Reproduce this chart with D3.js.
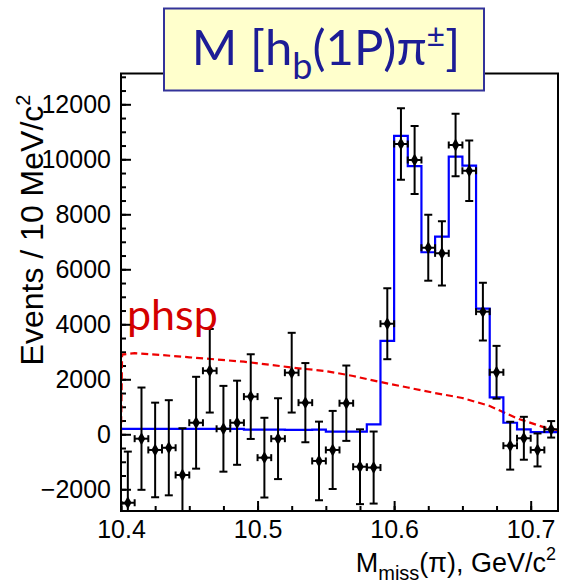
<!DOCTYPE html>
<html>
<head>
<meta charset="utf-8">
<script src="https://cdn.jsdelivr.net/npm/d3@7"></script>
<style>
  body { margin: 0; background: #fff; }
  svg { display: block; }
  .tick text { font-family: "Liberation Sans", Arial, sans-serif; font-size: 25px; fill: #000; }
</style>
</head>
<body>
<div id="chart"></div>
<script>
// Data, bins of 10 MeV
var binCenters = [10.405, 10.415, 10.425, 10.435, 10.445, 10.455, 10.465, 10.475,
                  10.485, 10.495, 10.505, 10.515, 10.525, 10.535, 10.545, 10.555,
                  10.565, 10.575, 10.585, 10.595, 10.605, 10.615, 10.625, 10.635,
                  10.645, 10.655, 10.665, 10.675, 10.685, 10.695, 10.705, 10.715];
var events = [-2490, -160, -570, -490, -1480, 420, 2310, 200,
              420, 1370, -850, -160, 2240, 1150, -970, -570,
              1130, -1180, -1210, 4020, 10560, 9975, 6785, 6580,
              10520, 9585, 4460, 2255, -415, -145, -570, 180];
var errors = [1860, 1860, 1720, 1730, 1700, 1670, 1520, 1560,
              1530, 1540, 1450, 1470, 1450, 1440, 1430, 1420,
              1370, 1360, 1310, 1290, 1300, 1240, 1200, 1170,
              1140, 1100, 1050, 960, 870, 780, 600, 300];
var fitValues = [200, 200, 200, 200, 200, 200, 200, 200,
                 200, 170, 170, 170, 160, 160, 170, 95,
                 95, 95, 360, 3400, 10850, 9755, 6620, 7190,
                 10100, 9770, 4570, 1345, 420, 180, 75, 75];
var phspX = [10.400, 10.4008, 10.41, 10.43, 10.45, 10.47, 10.49, 10.51, 10.53,
             10.55, 10.57, 10.59, 10.61, 10.63, 10.65, 10.67, 10.69, 10.71, 10.72];
var phspY = [0, 2900, 2950, 2880, 2800, 2720, 2640, 2520, 2400,
             2300, 2120, 1900, 1700, 1500, 1320, 1030, 580, 250, 150];
var xMajor = [10.4, 10.5, 10.6, 10.7];
var yMajor = [-2000, 0, 2000, 4000, 6000, 8000, 10000, 12000];
var binHalf = 0.005;

var width = 561, height = 585;
var plotLeft = 121, plotRight = 558, plotTop = 73.5, plotBottom = 511;

var svg = d3.select("#chart").append("svg")
    .attr("width", width)
    .attr("height", height);

svg.append("rect").attr("width", width).attr("height", height).attr("fill", "#fff");

var x = d3.scaleLinear().domain([10.4, 10.72]).range([plotLeft, plotRight]);
var y = d3.scaleLinear().domain([-2790, 13120]).range([plotBottom, plotTop]);

svg.append("clipPath").attr("id", "plot")
  .append("rect")
    .attr("x", plotLeft).attr("y", plotTop)
    .attr("width", plotRight - plotLeft).attr("height", plotBottom - plotTop);

// axes, ticks pointing inward
var xMinor = d3.range(10.4, 10.7201, 0.025);
var yMinor = d3.range(-2500, 13001, 500);

svg.append("g")
    .attr("transform", "translate(0," + plotBottom + ")")
    .call(d3.axisBottom(x).tickValues(xMinor).tickSize(-5).tickFormat(""))
    .call(function(g) { g.select(".domain").remove(); });
svg.append("g")
    .attr("transform", "translate(0," + plotBottom + ")")
    .call(d3.axisBottom(x).tickValues(xMajor).tickSize(-10).tickPadding(9).tickFormat(d3.format(".1f")))
    .call(function(g) { g.select(".domain").remove(); });

svg.append("g")
    .attr("transform", "translate(" + plotLeft + ",0)")
    .call(d3.axisLeft(y).tickValues(yMinor).tickSize(-5).tickFormat(""))
    .call(function(g) { g.select(".domain").remove(); });
svg.append("g")
    .attr("transform", "translate(" + plotLeft + ",0)")
    .call(d3.axisLeft(y).tickValues(yMajor).tickSize(-10).tickPadding(10).tickFormat(d3.format("d")))
    .call(function(g) { g.select(".domain").remove(); });

svg.selectAll(".tick line").attr("stroke", "#000").attr("stroke-width", 2);

var plot = svg.append("g").attr("clip-path", "url(#plot)");

// phase space, red dashed
plot.append("path")
    .datum(phspX.map(function(v, i) { return [v, phspY[i]]; }))
    .attr("fill", "none")
    .attr("stroke", "#ee0000")
    .attr("stroke-width", 2.2)
    .attr("stroke-dasharray", "7,4")
    .attr("d", d3.line().x(function(d) { return x(d[0]); }).y(function(d) { return y(d[1]); }));

// fit histogram, blue steps
var steps = binCenters.map(function(c, i) { return [c - binHalf, fitValues[i]]; });
steps.push([binCenters[binCenters.length - 1] + binHalf, fitValues[fitValues.length - 1]]);
plot.append("path")
    .datum(steps)
    .attr("fill", "none")
    .attr("stroke", "#0000ff")
    .attr("stroke-width", 2.2)
    .attr("d", d3.line().curve(d3.curveStepAfter)
      .x(function(d) { return x(d[0]); }).y(function(d) { return y(d[1]); }));

// data points with error bars
var pts = plot.selectAll("g.pt")
    .data(binCenters.map(function(c, i) { return { c: c, v: events[i], e: errors[i] }; }))
  .enter().append("g")
    .attr("class", "pt")
    .attr("stroke", "#000")
    .attr("stroke-width", 2);

pts.append("line")
    .attr("x1", function(d) { return x(d.c); }).attr("x2", function(d) { return x(d.c); })
    .attr("y1", function(d) { return y(d.v - d.e); }).attr("y2", function(d) { return y(d.v + d.e); });
pts.append("line")
    .attr("x1", function(d) { return x(d.c) - 4; }).attr("x2", function(d) { return x(d.c) + 4; })
    .attr("y1", function(d) { return y(d.v + d.e); }).attr("y2", function(d) { return y(d.v + d.e); });
pts.append("line")
    .attr("x1", function(d) { return x(d.c) - 4; }).attr("x2", function(d) { return x(d.c) + 4; })
    .attr("y1", function(d) { return y(d.v - d.e); }).attr("y2", function(d) { return y(d.v - d.e); });
pts.append("line")
    .attr("x1", function(d) { return x(d.c - binHalf); }).attr("x2", function(d) { return x(d.c + binHalf); })
    .attr("y1", function(d) { return y(d.v); }).attr("y2", function(d) { return y(d.v); });
pts.append("line")
    .attr("x1", function(d) { return x(d.c - binHalf); }).attr("x2", function(d) { return x(d.c - binHalf); })
    .attr("y1", function(d) { return y(d.v) - 3.5; }).attr("y2", function(d) { return y(d.v) + 3.5; });
pts.append("line")
    .attr("x1", function(d) { return x(d.c + binHalf); }).attr("x2", function(d) { return x(d.c + binHalf); })
    .attr("y1", function(d) { return y(d.v) - 3.5; }).attr("y2", function(d) { return y(d.v) + 3.5; });
pts.append("path")
    .attr("stroke", "none")
    .attr("fill", "#000")
    .attr("transform", function(d) { return "translate(" + x(d.c) + "," + y(d.v) + ")"; })
    .attr("d", d3.symbol(d3.symbolDiamond, 48));

// frame
svg.append("rect")
    .attr("x", plotLeft).attr("y", plotTop)
    .attr("width", plotRight - plotLeft).attr("height", plotBottom - plotTop)
    .attr("fill", "none").attr("stroke", "#000").attr("stroke-width", 2);

// axis titles
svg.append("text")
    .attr("transform", "translate(43,230) rotate(-90)")
    .attr("text-anchor", "middle")
    .style("font-family", "'Liberation Sans', Arial, sans-serif")
    .style("font-size", "32px")
    .html('Events / 10 MeV/c<tspan dy="-13" font-size="20px">2</tspan>');

svg.append("text")
    .attr("x", 556).attr("y", 572)
    .attr("text-anchor", "end")
    .style("font-family", "'Liberation Sans', Arial, sans-serif")
    .style("font-size", "27px")
    .html('M<tspan dy="8" font-size="20px">miss</tspan><tspan dy="-8">(π), GeV/c</tspan><tspan dy="-12" font-size="18px">2</tspan>');

// phsp label
svg.append("text")
    .attr("x", 127).attr("y", 330)
    .style("font-family", "Lato, 'Noto Sans', sans-serif")
    .style("font-size", "43px")
    .attr("fill", "#d40000")
    .text("phsp");

// title box
svg.append("rect")
    .attr("x", 164).attr("y", 8.5)
    .attr("width", 320).attr("height", 82)
    .attr("fill", "#ffffcc")
    .attr("stroke", "#33339a")
    .attr("stroke-width", 2);

svg.append("text")
    .attr("x", 326).attr("y", 65)
    .attr("text-anchor", "middle")
    .attr("fill", "#1c1c96")
    .style("font-family", "Lato, 'Noto Sans', sans-serif")
    .style("font-size", "49px")
    .html('M [h<tspan dy="14" font-size="36px">b</tspan><tspan dy="-14">(1P)π</tspan><tspan dy="-18" font-size="32px">±</tspan><tspan dy="18">]</tspan>');
</script>
</body>
</html>
